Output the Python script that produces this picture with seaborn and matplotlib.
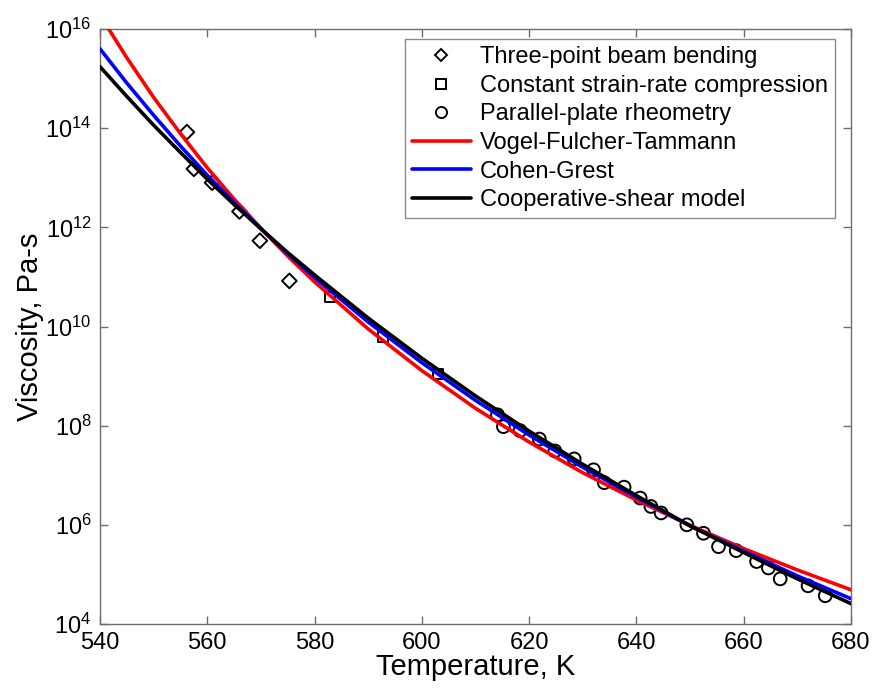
import numpy as np
import pandas as pd
import matplotlib
matplotlib.use("Agg")
import matplotlib.pyplot as plt
from matplotlib.lines import Line2D
import seaborn as sns

# ---- data ----
beam_T = [556.2, 557.5, 560.9, 566.0, 569.8, 575.3]
beam_log = [13.92, 13.18, 12.90, 12.32, 11.73, 10.92]

comp_T = [582.9, 592.8, 603.0]
comp_log = [10.60, 9.79, 9.04]

plate_T = [614.1, 615.2, 618.3, 621.9, 624.8, 628.4, 632.0, 634.0, 637.7, 640.7,
           642.7, 644.6, 649.4, 652.5, 655.3, 658.6, 662.4, 664.6, 666.8, 672.0, 675.2]
plate_log = [8.22, 7.98, 7.90, 7.73, 7.49, 7.33, 7.11, 6.85, 6.76, 6.54,
             6.37, 6.24, 6.00, 5.83, 5.56, 5.48, 5.26, 5.13, 4.91, 4.77, 4.57]

curve_T = [540, 545, 550, 555, 560, 565, 570, 575, 580, 590, 600, 610, 620, 630, 640, 650, 660, 670, 680]
vft_log = [16.28, 15.42, 14.62, 13.89, 13.20, 12.57, 11.98, 11.42, 10.90, 9.95, 9.11, 8.35, 7.67,
           7.05, 6.50, 5.99, 5.52, 5.09, 4.69]
cg_log = [15.60, 14.91, 14.26, 13.64, 13.05, 12.50, 11.97, 11.47, 10.99, 10.09, 9.27, 8.51, 7.81,
          7.16, 6.56, 5.98, 5.47, 4.97, 4.51]
cs_log = [15.24, 14.64, 14.06, 13.51, 12.97, 12.46, 11.97, 11.49, 11.04, 10.17, 9.36, 8.60, 7.89,
          7.22, 6.59, 5.98, 5.44, 4.91, 4.41]

x_ticks = [540, 560, 580, 600, 620, 640, 660, 680]
y_tick_exp = [4, 6, 8, 10, 12, 14, 16]

labels = ["Three-point beam bending", "Constant strain-rate compression",
          "Parallel-plate rheometry", "Vogel-Fulcher-Tammann", "Cohen-Grest",
          "Cooperative-shear model"]

# ---- style ----
sns.set_style("ticks")
plt.rcParams["font.family"] = ["Liberation Sans", "DejaVu Sans"]
plt.rcParams["mathtext.fontset"] = "custom"
plt.rcParams["mathtext.rm"] = "Liberation Sans"
plt.rcParams["mathtext.it"] = "Liberation Sans:italic"
plt.rcParams["mathtext.default"] = "regular"
plt.rcParams["text.color"] = "black"
plt.rcParams["axes.labelcolor"] = "black"

fig = plt.figure(figsize=(8.74, 6.92), dpi=100)
ax = fig.add_axes([100 / 874, 1 - 624 / 692, 751 / 874, 595 / 692])

spine_col = "#6e6e6e"
mk_lw = 1.4
ms = 70

def pw(v):
    return [10.0 ** e for e in v]

sns.scatterplot(x=beam_T, y=pw(beam_log), marker="D", s=ms * 0.8, fc="none", ec="black",
                linewidth=mk_lw, ax=ax, zorder=2)
sns.scatterplot(x=comp_T, y=pw(comp_log), marker="s", s=ms * 0.8, fc="none", ec="black",
                linewidth=mk_lw, ax=ax, zorder=2)
sns.scatterplot(x=plate_T, y=pw(plate_log), marker="o", s=ms * 1.2, fc="none", ec="black",
                linewidth=mk_lw, ax=ax, zorder=2)

lw = 2.6
sns.lineplot(x=curve_T, y=pw(vft_log), color="#ff0000", linewidth=lw, ax=ax, zorder=3)
sns.lineplot(x=curve_T, y=pw(cg_log), color="#0000ff", linewidth=lw, ax=ax, zorder=4)
sns.lineplot(x=curve_T, y=pw(cs_log), color="black", linewidth=lw, ax=ax, zorder=5)

ax.set_yscale("log")
ax.set_xlim(540, 680)
ax.set_ylim(1e4, 1e16)
ax.set_xticks(x_ticks)
ax.set_xticklabels([str(t) for t in x_ticks])
ax.set_yticks([10.0 ** e for e in y_tick_exp])
ax.set_yticklabels([r"$10^{%d}$" % e for e in y_tick_exp])
ax.minorticks_off()
ax.tick_params(axis="both", which="both", direction="in", length=6, width=1.0,
               color=spine_col, labelcolor="black", top=True, right=True, labelsize=17, pad=6)
for s in ax.spines.values():
    s.set_color(spine_col)
    s.set_linewidth(1.0)
    s.set_visible(True)

ax.set_xlabel("Temperature, K", fontsize=21, labelpad=-1)
ax.set_ylabel("Viscosity, Pa-s", fontsize=21, labelpad=1)

handles = [
    Line2D([], [], linestyle="none", marker="D", markersize=6.5, mfc="none", mec="black", mew=mk_lw),
    Line2D([], [], linestyle="none", marker="s", markersize=7, mfc="none", mec="black", mew=mk_lw),
    Line2D([], [], linestyle="none", marker="o", markersize=8, mfc="none", mec="black", mew=mk_lw),
    Line2D([], [], color="#ff0000", linewidth=lw),
    Line2D([], [], color="#0000ff", linewidth=lw),
    Line2D([], [], color="black", linewidth=lw),
]
leg = ax.legend(handles, labels, loc="upper right", fontsize=17, frameon=True, fancybox=False,
                edgecolor=spine_col, handlelength=2.5, labelspacing=0.28, borderpad=0.3,
                handletextpad=0.4, borderaxespad=0.0, bbox_to_anchor=(0.979, 0.983))
leg.get_frame().set_linewidth(1.0)

fig.savefig("out.png", dpi=100, facecolor="white")
